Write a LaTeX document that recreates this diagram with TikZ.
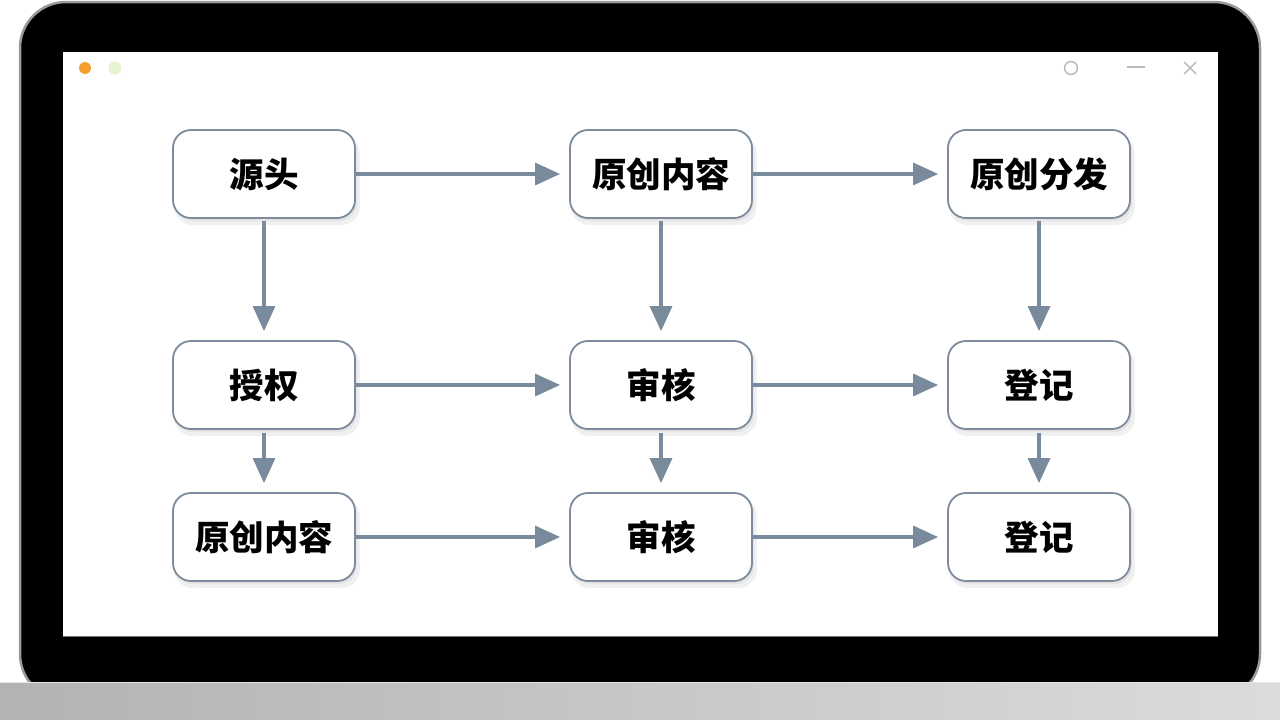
\documentclass[tikz,border=0pt]{standalone}
\usepackage{fontspec}
\newfontfamily\cjk{Noto Sans CJK SC}
\usetikzlibrary{arrows.meta,shadows,shapes.geometric}
\definecolor{frameedge}{HTML}{9A9A9A}
\definecolor{boxedge}{HTML}{7D8B9C}
\definecolor{arrowc}{HTML}{7A8A9D}
\definecolor{dotorange}{HTML}{F5A02E}
\definecolor{dotgreen}{HTML}{E6F4D2}
\definecolor{ctrl}{HTML}{B8B8B8}
\tikzset{
  flowbox/.style={draw=boxedge, line width=1.8pt, fill=white, rounded corners=18pt,
    minimum width=182pt, minimum height=88pt, inner sep=0pt,
    font=\cjk\bfseries\fontsize{34.5}{38}\selectfont,
    general shadow={fill=black, opacity=0.06, shadow xshift=3pt, shadow yshift=-6pt, shadow scale=1.02},
    drop shadow={opacity=0.10, shadow xshift=2pt, shadow yshift=-3pt}},
  flowarrow/.style={draw=arrowc, line width=3.2pt, -{Triangle[length=25pt,width=22pt]}, shorten >=9pt},
  ctrlline/.style={draw=ctrl, line width=1.4pt}
}
\begin{document}
\begin{tikzpicture}[x=1pt,y=-1pt]
\useasboundingbox (0,0) rectangle (1280,720);
\fill[white] (0,0) rectangle (1280,720);
% laptop frame
\draw[fill=black, draw=frameedge, line width=2.5pt, rounded corners=46pt] (20,2) rectangle (1260,700);
% screen
\fill[white] (63,52) rectangle (1218,636);
\draw[black!55, line width=0.8pt] (63,636) -- (1218,636);
% base
\shade[left color=black!30, right color=black!14] (0,682) rectangle (1280,720);
\draw[black!10, line width=1pt] (0,682.5) -- (1280,682.5);
% window dots
\fill[dotorange] (85,68) circle (6pt);
\fill[dotgreen] (115,68) circle (6.5pt);
% window controls
\draw[ctrlline] (1071,68) circle (6.5pt);
\draw[ctrlline] (1127,67) -- (1145,67);
\draw[ctrlline] (1184,62) -- (1196,74);
\draw[ctrlline] (1196,62) -- (1184,74);
% nodes
\node[flowbox] (a1) at (264,174) {源头};
\node[flowbox] (b1) at (661,174) {原创内容};
\node[flowbox] (c1) at (1039,174) {原创分发};
\node[flowbox] (a2) at (264,385) {授权};
\node[flowbox] (b2) at (661,385) {审核};
\node[flowbox] (c2) at (1039,385) {登记};
\node[flowbox] (a3) at (264,537) {原创内容};
\node[flowbox] (b3) at (661,537) {审核};
\node[flowbox] (c3) at (1039,537) {登记};
% arrows
\draw[flowarrow] (a1) -- (b1);
\draw[flowarrow] (b1) -- (c1);
\draw[flowarrow] (a2) -- (b2);
\draw[flowarrow] (b2) -- (c2);
\draw[flowarrow] (a3) -- (b3);
\draw[flowarrow] (b3) -- (c3);
\draw[flowarrow, shorten <=2pt] (a1) -- (a2);
\draw[flowarrow, shorten <=2pt] (b1) -- (b2);
\draw[flowarrow, shorten <=2pt] (c1) -- (c2);
\draw[flowarrow, shorten <=3pt] (a2) -- (a3);
\draw[flowarrow, shorten <=3pt] (b2) -- (b3);
\draw[flowarrow, shorten <=3pt] (c2) -- (c3);
\end{tikzpicture}
\end{document}
